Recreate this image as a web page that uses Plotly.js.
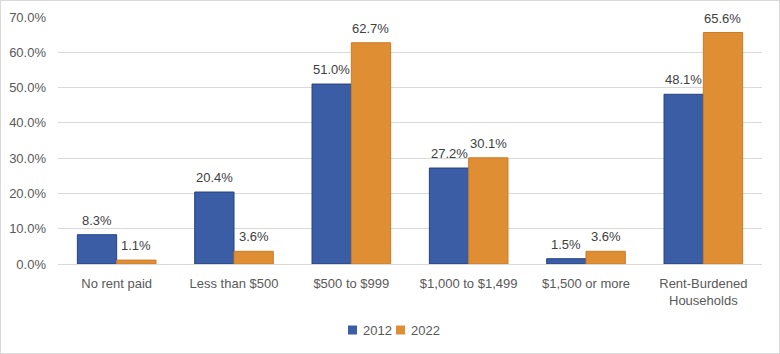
<!DOCTYPE html>
<html><head><meta charset="utf-8">
<script src="https://cdn.plot.ly/plotly-3.0.1.min.js"></script>
<style>html,body{margin:0;padding:0;background:#fff}#chart{width:780px;height:354px;box-sizing:border-box;border:1px solid #d9d9d9}</style>
</head><body><div id="chart"></div>
<script>
const categories = ["No rent paid","Less than $500","$500 to $999","$1,000 to $1,499","$1,500 or more","Rent-Burdened<br>Households"];
const values2012 = [8.3, 20.4, 51.0, 27.2, 1.5, 48.1];
const values2022 = [1.1, 3.6, 62.7, 30.1, 3.6, 65.6];
const yTicks = [0,10,20,30,40,50,60,70];
const seriesNames = ['2012','2022'];
const colors = ['#3a5da6','#df8e34'];
const lineColors = ['#24437f','#c97c27'];

const W = 778, H = 352, M = {l:57,r:17,t:16,b:89};
const plotW = W - M.l - M.r;
const bargap = 0.33;
const barPx = plotW / categories.length * (1 - bargap) / 2;

const series = [values2012, values2022];
const data = series.map((vals,i)=>({type:'bar', name:seriesNames[i], x:categories, y:vals,
  marker:{color:colors[i], line:{color:lineColors[i],width:1}}, hoverinfo:'none', showlegend:false}));

const annotations = [];
series.forEach((vals,i)=>{
  vals.forEach((v,j)=>{
    annotations.push({x:categories[j], y:v, xref:'x', yref:'y', text:v.toFixed(1)+'%', showarrow:false,
      xanchor:'center', yanchor:'bottom', xshift:(i===0?-1:1)*barPx/2, yshift:5,
      font:{size:13,color:'#404040'}});
  });
});
// custom legend
const legY = -(330 - 1 - (H - M.b)) / (H - M.t - M.b);
const shapes = [];
const legItems = [{x0:348, tx:361}, {x0:396, tx:409}];
legItems.forEach((it,i)=>{
  shapes.push({type:'rect', xref:'paper', yref:'paper',
    x0:(it.x0-1-M.l)/plotW, x1:(it.x0-1+9-M.l)/plotW,
    y0:legY - 4.5/(H-M.t-M.b), y1:legY + 4.5/(H-M.t-M.b),
    fillcolor:colors[i], line:{width:0}});
  annotations.push({xref:'paper', yref:'paper', x:(it.tx-1-M.l)/plotW, y:legY, xanchor:'left', yanchor:'middle',
    text:seriesNames[i], showarrow:false, font:{size:13,color:'#595959'}});
});

const layout = {
  width:W, height:H, margin:M,
  font:{family:'Liberation Sans, Arial, sans-serif', color:'#595959', size:13},
  paper_bgcolor:'#fff', plot_bgcolor:'#fff',
  bargap:bargap, bargroupgap:0, showlegend:false,
  xaxis:{type:'category', automargin:false, showline:true, linecolor:'#d9d9d9', ticks:'', ticklabelstandoff:7, tickfont:{size:13,color:'#595959'}},
  yaxis:{range:[0,70], automargin:false, tickvals:yTicks, ticktext:yTicks.map(v=>v.toFixed(1)+'%'), gridcolor:'#d9d9d9', zeroline:false, showline:false, ticks:'', ticklabelstandoff:11, tickfont:{size:13,color:'#595959'}},
  annotations:annotations, shapes:shapes
};
Plotly.newPlot('chart', data, layout, {displayModeBar:false, staticPlot:true});
</script></body></html>
